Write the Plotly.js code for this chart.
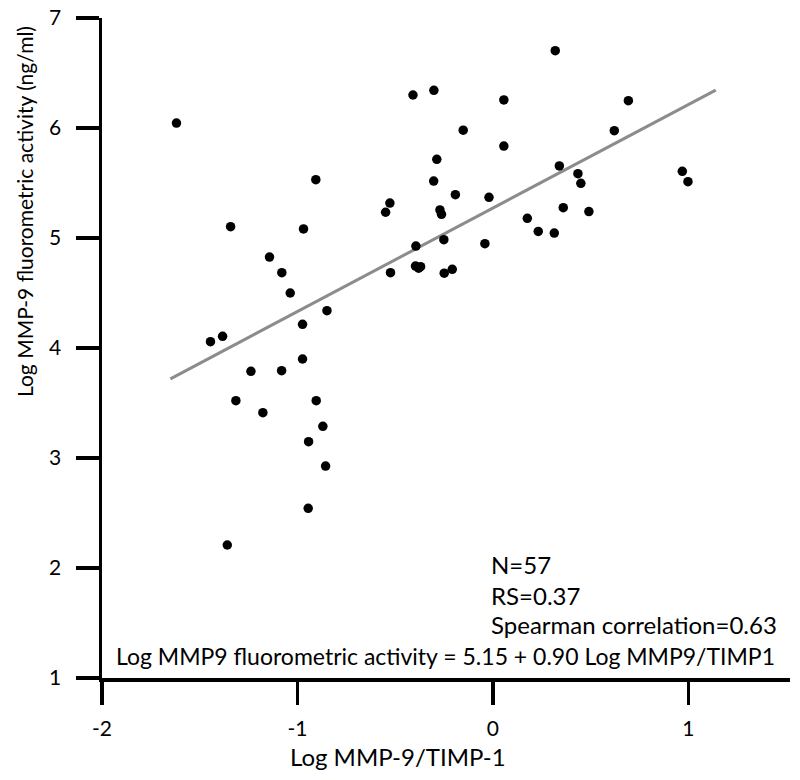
<!DOCTYPE html>
<html>
<head>
<meta charset="utf-8">
<script src="https://cdn.plot.ly/plotly-3.0.1.min.js"></script>
<style>html,body{margin:0;padding:0;background:#fff;}#chart{width:800px;height:780px;}</style>
</head>
<body>
<div id="chart"></div>
<script>
// Log MMP-9/TIMP-1 (x) vs Log MMP-9 fluorometric activity (y)
var ratioX = [-1.619,-0.409,-0.302,-0.152,-0.287,-0.906,-0.303,-0.192,-0.020,-0.527,
              -0.549,-0.271,-0.263,-1.342,-0.969,-0.041,-0.394,-0.251,-1.143,-1.080,
              -1.037,-0.524,-0.396,-0.370,-0.380,-0.249,-0.208,-0.849,-0.974,-1.445,
              -1.383,-0.974,0.319,0.056,0.693,0.621,0.056,0.340,0.435,0.450,
              0.969,0.998,0.360,0.491,0.176,0.232,0.314,-1.238,-1.081,-1.315,
              -1.177,-0.904,-0.870,-0.943,-0.856,-0.945,-1.359];
var activityY = [6.045,6.300,6.343,5.980,5.715,5.530,5.518,5.394,5.370,5.318,
                 5.234,5.255,5.215,5.103,5.082,4.948,4.927,4.985,4.827,4.685,
                 4.500,4.685,4.745,4.739,4.725,4.680,4.715,4.339,4.215,4.057,
                 4.106,3.900,6.703,6.255,6.248,5.976,5.836,5.655,5.585,5.497,
                 5.606,5.512,5.276,5.240,5.179,5.060,5.045,3.788,3.794,3.521,
                 3.412,3.521,3.288,3.148,2.927,2.543,2.209];
// fitted line end points as drawn
var fitX = [-1.65, 1.14];
var fitY = [3.72, 6.345];
var xTicks = [-2, -1, 0, 1];
var xTickText = ["-2", "-1", "0", "1"];
var yTicks = [1, 2, 3, 4, 5, 6, 7];
var statLines = ["N=57", "RS=0.37", "Spearman correlation=0.63"];
var statY = [2.03, 1.752, 1.49];
var equationText = "Log MMP9 fluorometric activity = 5.15 + 0.90 Log MMP9/TIMP1";

var FONT = "Lato, 'Open Sans', sans-serif";

var traces = [
  {x: fitX, y: fitY, mode: 'lines', type: 'scatter',
   line: {color: '#8c8c8c', width: 3}, hoverinfo: 'skip', cliponaxis: false},
  {x: ratioX, y: activityY, mode: 'markers', type: 'scatter',
   marker: {color: '#000', size: 9.5}, cliponaxis: false}
];

var annotations = statLines.map(function(t, i){
  return {x: -0.022, y: statY[i], xref: 'x', yref: 'y', text: t, showarrow: false,
          xanchor: 'left', yanchor: 'middle', font: {family: FONT, size: 24, color: '#000'}};
});
annotations.push({x: -1.941, y: 1.20, xref: 'x', yref: 'y', text: equationText, showarrow: false,
  xanchor: 'left', yanchor: 'middle', font: {family: FONT, size: 23, color: '#000'}});
annotations.push({x: 24, y: 212, xref: 'paper', yref: 'paper', text: "Log MMP-9 fluorometric activity (ng/ml)",
  showarrow: false, textangle: -90, xanchor: 'center', yanchor: 'middle',
  font: {family: FONT, size: 21, color: '#000'}});
annotations.push({x: 398, y: 756, xref: 'paper', yref: 'paper', text: "Log MMP-9/TIMP-1",
  showarrow: false, xanchor: 'center', yanchor: 'middle',
  font: {family: FONT, size: 24, color: '#000'}});

// convert pixel-positioned titles to paper coords
var L = 102, R = 10, T = 18, B = 102, W = 800, H = 780;
annotations.forEach(function(a){
  if (a.xref === 'paper') {
    a.x = (a.x - L) / (W - L - R);
    a.y = 1 - (a.y - T) / (H - T - B);
  }
});

var layout = {
  width: W, height: H,
  margin: {l: L, r: R, t: T, b: B, pad: 0},
  paper_bgcolor: '#fff', plot_bgcolor: '#fff',
  showlegend: false,
  font: {family: FONT, color: '#000', size: 21},
  xaxis: {range: [-2, 1.52], tickvals: xTicks, ticktext: xTickText, ticks: 'outside', ticklen: 23, tickwidth: 3.5,
          tickcolor: '#000', showline: true, linecolor: '#000', linewidth: 3.5,
          showgrid: false, zeroline: false, tickfont: {family: FONT, size: 21, color: '#000'},
          ticklabelstandoff: 6},
  yaxis: {range: [1, 7], tickvals: yTicks, ticks: 'outside', ticklen: 23, tickwidth: 3.5,
          tickcolor: '#000', showline: true, linecolor: '#000', linewidth: 3.5,
          showgrid: false, zeroline: false, tickfont: {family: FONT, size: 21, color: '#000'},
          ticklabelstandoff: 10},
  annotations: annotations
};

Plotly.newPlot('chart', traces, layout, {displayModeBar: false, staticPlot: true});
</script>
</body>
</html>
